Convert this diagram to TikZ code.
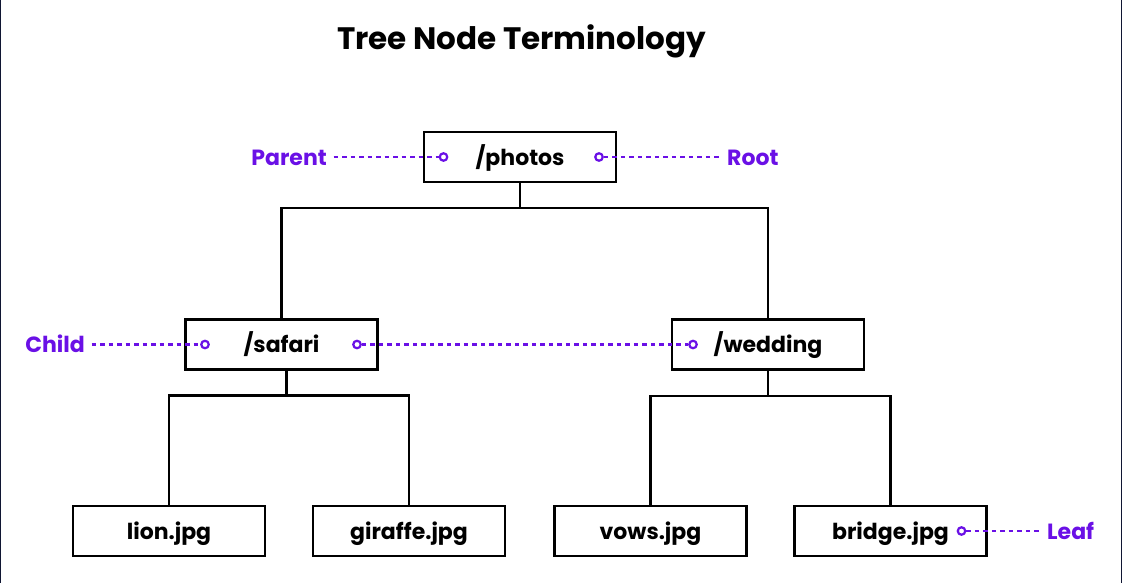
\documentclass[tikz,border=0pt]{standalone}
\usepackage{fontspec}
\setmainfont{Poppins}
\definecolor{vio}{HTML}{6A10E6}
\definecolor{edgec}{HTML}{101633}
\begin{document}
\begin{tikzpicture}[x=1pt,y=-1pt,
  treebox/.style={draw=black, line width=2.6pt, minimum width=192pt, minimum height=50pt,
    inner sep=0pt, font=\fontsize{22}{24}\selectfont\bfseries, text height=16pt, text depth=0pt},
  conn/.style={draw=black, line width=2.6pt},
  lbl/.style={text=vio, inner xsep=6.5pt, inner ysep=0pt,
    font=\fontsize{22}{24}\selectfont\bfseries, text height=16pt, text depth=0pt},
  dotc/.style={circle, draw=vio, line width=2.2pt, fill=white, inner sep=0pt, minimum size=7.5pt},
  dline/.style={draw=vio, line width=2.2pt, dash pattern=on 4.5pt off 4pt},
  titlestyle/.style={font=\fontsize{31}{34}\selectfont\bfseries, inner sep=0pt, text height=22pt, text depth=0pt}
]
\fill[white] (0,0) rectangle (1122,583);
\useasboundingbox (0,0) rectangle (1122,583);
\draw[edgec, line width=1.2pt] (0.6,0) -- (0.6,583);
\draw[edgec, line width=1.2pt] (1121.4,0) -- (1121.4,583);

\node[titlestyle] (title) at (521.5,39) {Tree Node Terminology};

% tree nodes
\node[treebox] (photos)  at (520,157)   {/photos};
\node[treebox] (safari)  at (281.5,344.5) {/safari};
\node[treebox] (wedding) at (768,344.5) {/wedding};
\node[treebox] (lion)    at (169,531)   {lion.jpg};
\node[treebox] (giraffe) at (409,531)   {giraffe.jpg};
\node[treebox] (vows)    at (650.5,531) {vows.jpg};
\node[treebox] (bridge)  at (890.5,531) {bridge.jpg};

% junction coordinates
\coordinate (j1) at (520,208);
\coordinate (j2) at (286.7,395.5);
\coordinate (j3) at (768,396);

\draw[conn] (photos.south) -- (j1);
\draw[conn] (safari.north) |- (j1) -| (wedding.north);
\draw[conn] ([xshift=5.2pt]safari.south) -- (j2);
\draw[conn] (lion.north) |- (j2) -| (giraffe.north);
\draw[conn] (wedding.south) -- (j3);
\draw[conn] (vows.north) |- (j3) -| (bridge.north);

% labels
\node[lbl, anchor=east] (parent) at (333.5,157) {Parent};
\node[lbl, anchor=west] (root)   at (720.5,157) {Root};
\node[lbl, anchor=east] (child)  at (91.5,344.5) {Child};
\node[lbl, anchor=west] (leaf)   at (1040.5,531) {Leaf};

% marker circles
\node[dotc] (c1) at (443.5,157) {};
\node[dotc] (c2) at (599,157) {};
\node[dotc] (c3) at (205,344.5) {};
\node[dotc] (c4) at (357,344.5) {};
\node[dotc] (c5) at (693,344.5) {};
\node[dotc] (c6) at (961.5,531) {};

% dashed pointers
\draw[dline] (parent.east) -- (c1.west);
\draw[dline] (c2.east) -- (root.west);
\draw[dline] (child.east) -- (c3.west);
\draw[dline] (c4.east) -- (c5.west);
\draw[dline] (c6.east) -- (leaf.west);
\end{tikzpicture}
\end{document}
